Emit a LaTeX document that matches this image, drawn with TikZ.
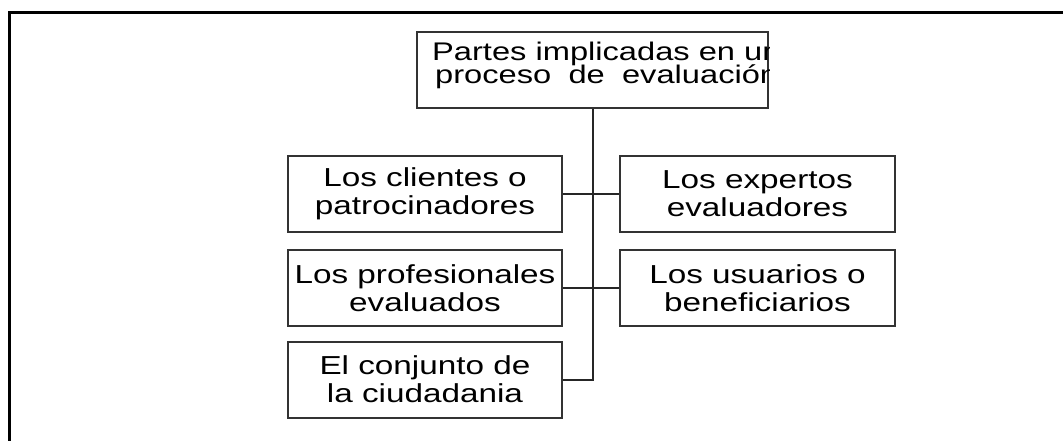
\documentclass[tikz,border=0pt]{standalone}
\usepackage{fontspec}
\setmainfont[FakeStretch=1.28]{Liberation Sans}
\begin{document}
\begin{tikzpicture}[x=1pt,y=-1pt,
  box/.style={draw=black!80, line width=2pt, inner sep=0pt, align=center,
    minimum height=76pt, font=\fontsize{26}{28}\selectfont},
  lbox/.style={box, minimum width=274pt},
  rbox/.style={box, minimum width=275pt},
  conn/.style={draw=black!85, line width=2pt},
  toptext/.style={anchor=base west, inner sep=0pt, font=\fontsize{25.5}{22}\selectfont}]
\useasboundingbox (0,0) rectangle (1063,441);
\draw[line width=3pt] (9,445) -- (9,13) -- (1066,13);

\node[box, minimum width=351pt] (top) at (592.5,70) {};
\begin{scope}
  \clip (top.north west) rectangle (top.south east);
  \node[toptext] (t1) at (432,61) {Partes implicadas en un};
  \node[toptext] (t2) at (435,84) {\makebox[343pt][s]{proceso de evaluación}};
\end{scope}

\node[lbox] (L1) at (425,194) {Los clientes o\\patrocinadores};
\node[lbox] (L2) at (425,288) {Los profesionales\\evaluados};
\node[lbox] (L3) at (425,379.5) {El conjunto de\\la ciudadania};
\node[rbox] (R1) at (757.5,194) {Los expertos\\evaluadores};
\node[rbox] (R2) at (757.5,288) {Los usuarios o\\beneficiarios};

\draw[conn] (top.south) |- (L3.east);
\draw[conn] (L1.east) -- (R1.west);
\draw[conn] (L2.east) -- (R2.west);
\end{tikzpicture}
\end{document}
